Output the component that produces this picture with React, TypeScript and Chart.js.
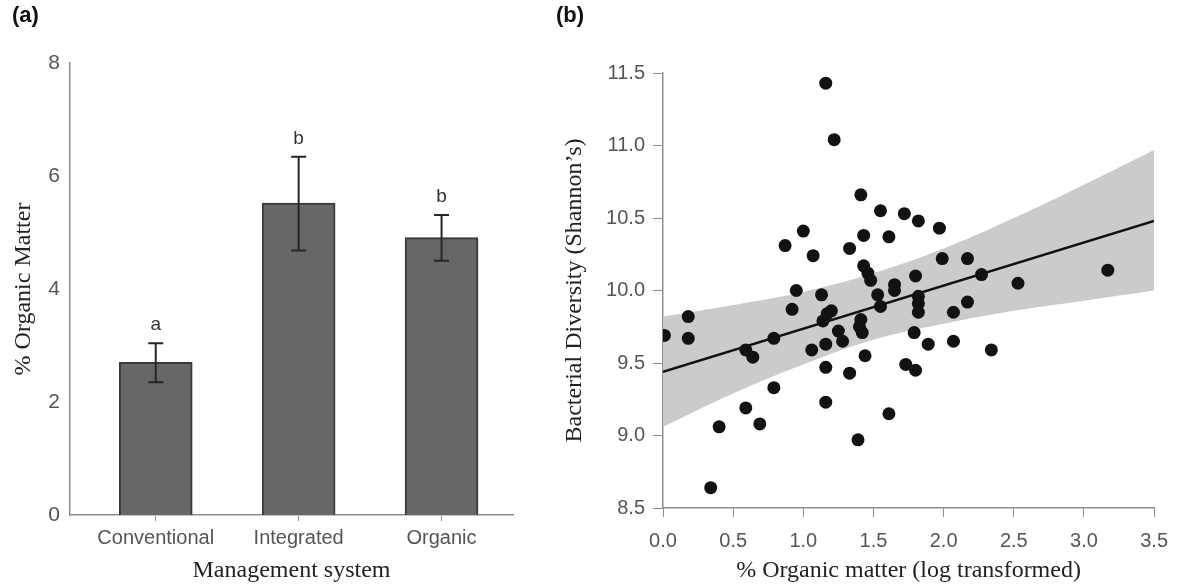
import React, { useEffect, useRef } from "react";
import { Chart, registerables } from "chart.js";

Chart.register(...registerables);

// ---------- Panel (a) data ----------
const systems = ["Conventional", "Integrated", "Organic"];
const meanOM = [2.7, 5.52, 4.91];
const errLow = [2.35, 4.68, 4.5];
const errHigh = [3.04, 6.34, 5.31];
const groupLetters = ["a", "b", "b"];
const omTicks = [0, 2, 4, 6, 8];

// ---------- Panel (b) data ----------
const logOM = [
  0.01, 0.18, 0.18, 0.34, 0.4, 0.59, 0.64, 0.59, 0.69, 0.79, 0.79, 0.87, 0.92, 0.95, 1.0, 1.07, 1.06,
  1.13, 1.14, 1.17, 1.2, 1.16, 1.16, 1.16, 1.16, 1.22, 1.25, 1.28, 1.33, 1.33, 1.39, 1.4, 1.41, 1.42,
  1.41, 1.43, 1.43, 1.44, 1.46, 1.48, 1.53, 1.55, 1.55, 1.61, 1.61, 1.65, 1.65, 1.72, 1.73, 1.8, 1.79,
  1.8, 1.82, 1.82, 1.82, 1.82, 1.89, 1.97, 1.99, 2.07, 2.07, 2.17, 2.17, 2.27, 2.34, 2.53, 3.17,
];
const shannon = [
  9.69, 9.82, 9.67, 8.64, 9.06, 9.59, 9.54, 9.19, 9.08, 9.67, 9.33, 10.31, 9.87, 10.0, 10.41, 10.24, 9.59,
  9.97, 9.79, 9.84, 9.86, 9.63, 9.47, 9.23, 11.43, 11.04, 9.72, 9.65, 10.29, 9.43, 8.97, 9.75, 9.8, 9.71,
  10.66, 10.38, 10.17, 9.55, 10.12, 10.07, 9.97, 9.89, 10.55, 10.37, 9.15, 10.04, 10.0, 10.53, 9.49, 9.45, 9.71,
  10.1, 10.48, 9.96, 9.91, 9.85, 9.63, 10.43, 10.22, 9.85, 9.65, 10.22, 9.92, 10.11, 9.59, 10.05, 10.14,
];
const fitX = [0, 3.5];
const fitY = [9.44, 10.48];
const bandX = [0, 0.5, 1.0, 1.5, 2.0, 2.5, 3.0, 3.5];
const bandUpper = [9.82, 9.9, 9.99, 10.12, 10.29, 10.5, 10.73, 10.97];
const bandLower = [9.06, 9.29, 9.49, 9.66, 9.77, 9.86, 9.93, 10.0];
const xTicksB = [0, 0.5, 1.0, 1.5, 2.0, 2.5, 3.0, 3.5];
const yTicksB = [8.5, 9.0, 9.5, 10.0, 10.5, 11.0, 11.5];

const SANS = "'Liberation Sans', Arial, sans-serif";
const SERIF = "'Liberation Serif', 'Times New Roman', serif";
const AXIS = "#8d8d8d";
const TICKTXT = "#555555";
const TITLETXT = "#222222";

const errorBarPlugin = {
  id: "errorBars",
  afterDatasetsDraw(chart: any) {
    const ctx = chart.ctx;
    const xs = chart.scales.x;
    const ys = chart.scales.y;
    ctx.save();
    ctx.strokeStyle = "#262626";
    ctx.lineWidth = 2;
    systems.forEach((_, i) => {
      const x = xs.getPixelForValue(i);
      const yl = ys.getPixelForValue(errLow[i]);
      const yh = ys.getPixelForValue(errHigh[i]);
      ctx.beginPath();
      ctx.moveTo(x, yl);
      ctx.lineTo(x, yh);
      ctx.moveTo(x - 7.5, yl);
      ctx.lineTo(x + 7.5, yl);
      ctx.moveTo(x - 7.5, yh);
      ctx.lineTo(x + 7.5, yh);
      ctx.stroke();
      ctx.fillStyle = "#333333";
      ctx.font = `19px ${SANS}`;
      ctx.textAlign = "center";
      ctx.textBaseline = "middle";
      ctx.fillText(groupLetters[i], x, yh - 18);
    });
    ctx.restore();
  },
};

export default function App() {
  const refA = useRef<HTMLCanvasElement | null>(null);
  const refB = useRef<HTMLCanvasElement | null>(null);

  useEffect(() => {
    document.body.style.margin = "0";
    const chartA = new Chart(refA.current as HTMLCanvasElement, {
      type: "bar",
      data: {
        datasets: [
          {
            data: systems.map((_, i) => ({ x: i, y: meanOM[i] })),
            backgroundColor: "#676767",
            borderColor: "#3a3a3a",
            borderWidth: 2,
            barThickness: 73,
          } as any,
        ],
      },
      options: {
        animation: false,
        responsive: false,
        maintainAspectRatio: false,
        layout: { padding: { left: 0, right: 27, top: 63, bottom: 0 } },
        plugins: { legend: { display: false }, tooltip: { enabled: false } },
        scales: {
          x: {
            type: "linear",
            min: -0.6,
            max: 2.5,
            offset: false,
            afterBuildTicks: (s: any) => {
              s.ticks = systems.map((_, i) => ({ value: i }));
            },
            afterFit: (s: any) => {
              s.height = 584 - 515;
            },
            ticks: {
              callback: (v: any) => systems[Math.round(Number(v))] ?? "",
              font: { family: SANS, size: 20 },
              color: TICKTXT,
              padding: 5,
              maxRotation: 0,
              autoSkip: false,
            },
            grid: { display: true, drawOnChartArea: false, drawTicks: true, tickLength: 6, color: AXIS, offset: false },
            border: { display: true, color: AXIS, width: 1.5 },
            title: {
              display: true,
              text: "Management system",
              font: { family: SERIF, size: 24, lineHeight: 1 },
              color: TITLETXT,
              padding: { top: 0, bottom: 1 },
            },
          } as any,
          y: {
            min: 0,
            max: 8,
            afterBuildTicks: (s: any) => {
              s.ticks = omTicks.map((v) => ({ value: v }));
            },
            afterFit: (s: any) => {
              s.width = 70;
            },
            ticks: { font: { family: SANS, size: 21 }, color: TICKTXT, padding: 10 },
            grid: { display: false, drawTicks: false },
            border: { display: true, color: AXIS, width: 1.5 },
            title: {
              display: true,
              text: "% Organic Matter",
              font: { family: SERIF, size: 24, lineHeight: 1 },
              color: TITLETXT,
              padding: { top: 12, bottom: 0 },
            },
          } as any,
        },
      },
      plugins: [errorBarPlugin],
    });

    const chartB = new Chart(refB.current as HTMLCanvasElement, {
      type: "scatter",
      data: {
        datasets: [
          {
            type: "scatter",
            data: logOM.map((x, i) => ({ x, y: shannon[i] })),
            backgroundColor: "#121212",
            borderWidth: 0,
            pointRadius: 6.5,
            clip: 0,
          } as any,
          {
            type: "line",
            data: fitX.map((x, i) => ({ x, y: fitY[i] })),
            borderColor: "#111111",
            borderWidth: 2.5,
            pointRadius: 0,
            fill: false,
          } as any,
          {
            type: "line",
            data: bandX.map((x, i) => ({ x, y: bandUpper[i] })),
            borderWidth: 0,
            borderColor: "rgba(0,0,0,0)",
            backgroundColor: "#cbcbcb",
            pointRadius: 0,
            tension: 0.4,
            fill: "+1",
          } as any,
          {
            type: "line",
            data: bandX.map((x, i) => ({ x, y: bandLower[i] })),
            borderWidth: 0,
            borderColor: "rgba(0,0,0,0)",
            pointRadius: 0,
            tension: 0.4,
            fill: false,
          } as any,
        ],
      },
      options: {
        animation: false,
        responsive: false,
        maintainAspectRatio: false,
        layout: { padding: { left: 0, right: 24, top: 73, bottom: 0 } },
        plugins: { legend: { display: false }, tooltip: { enabled: false } },
        scales: {
          x: {
            type: "linear",
            min: 0,
            max: 3.5,
            afterBuildTicks: (s: any) => {
              s.ticks = xTicksB.map((v) => ({ value: v }));
            },
            afterFit: (s: any) => {
              s.height = 584 - 508;
            },
            ticks: {
              callback: (v: any) => Number(v).toFixed(1),
              font: { family: SANS, size: 20 },
              color: TICKTXT,
              padding: 12,
              maxRotation: 0,
            },
            grid: { display: true, drawOnChartArea: false, drawTicks: true, tickLength: 9, color: AXIS },
            border: { display: true, color: AXIS, width: 1.5 },
            title: {
              display: true,
              text: "% Organic matter (log transformed)",
              font: { family: SERIF, size: 24, lineHeight: 1 },
              color: TITLETXT,
              padding: { top: 0, bottom: 1 },
            },
          } as any,
          y: {
            type: "linear",
            min: 8.5,
            max: 11.5,
            afterBuildTicks: (s: any) => {
              s.ticks = yTicksB.map((v) => ({ value: v }));
            },
            afterFit: (s: any) => {
              s.width = 123;
            },
            ticks: {
              callback: (v: any) => Number(v).toFixed(1),
              font: { family: SANS, size: 20 },
              color: TICKTXT,
              padding: 8,
            },
            grid: { display: true, drawOnChartArea: false, drawTicks: true, tickLength: 10, color: AXIS },
            border: { display: true, color: AXIS, width: 1.5 },
            title: {
              display: true,
              text: "Bacterial Diversity (Shannon\u2019s)",
              font: { family: SERIF, size: 24, lineHeight: 1 },
              color: TITLETXT,
              padding: { top: 23, bottom: 0 },
            },
          } as any,
        },
      },
    });

    return () => {
      chartA.destroy();
      chartB.destroy();
    };
  }, []);

  const labelStyle: React.CSSProperties = {
    position: "absolute",
    top: 2,
    fontFamily: SANS,
    fontWeight: "bold",
    fontSize: 22,
    color: "#111",
    lineHeight: "26px",
  };

  return (
    <div style={{ position: "absolute", left: 0, top: 0, width: 1180, height: 584, background: "#fff", overflow: "hidden" }}>
      <canvas ref={refA} width={540} height={584} style={{ position: "absolute", left: 0, top: 0, width: 540, height: 584 }} />
      <canvas ref={refB} width={640} height={584} style={{ position: "absolute", left: 540, top: 0, width: 640, height: 584 }} />
      <div style={{ ...labelStyle, left: 12 }}>(a)</div>
      <div style={{ ...labelStyle, left: 556 }}>(b)</div>
    </div>
  );
}
